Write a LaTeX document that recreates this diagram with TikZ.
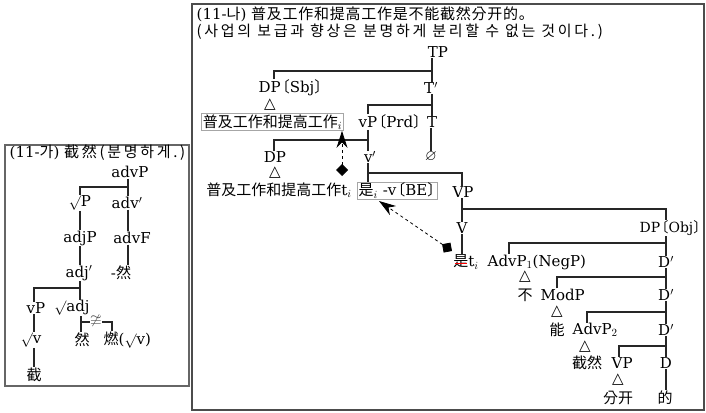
\documentclass[tikz,border=0pt]{standalone}
\usepackage{fontspec}
\usepackage{amssymb}
\usetikzlibrary{arrows.meta}
\setmainfont{DejaVu Serif}
\newfontfamily\cjk{Noto Sans CJK KR}
\newfontfamily\cjkw[LetterSpace=18]{Noto Sans CJK KR}
\newfontfamily\cjkm[LetterSpace=5]{Noto Sans CJK KR}
\newfontfamily\djv{DejaVu Sans}
\newcommand\K[1]{{\cjk\fontsize{15}{18}\selectfont #1}}
\newcommand\KW[1]{{\cjkw\fontsize{15}{18}\selectfont #1}}
\newcommand\KM[1]{{\cjkm\fontsize{15}{18}\selectfont #1}}
\newcommand\lb{\kern-6pt\K{〔}}
\newcommand\rb{\K{〕}\kern-6pt}
\tikzset{
  lab/.style={inner sep=0.5pt, font=\fontsize{15}{18}\selectfont},
  tri/.style={inner sep=0pt, font=\djv\fontsize{15}{15}\selectfont},
  boxed/.style={draw=black!35, line width=0.8pt, inner sep=1pt},
  tree/.style={line width=1.4pt, black!85},
  mv/.style={dashed, line width=0.8pt, {Diamond[length=12pt,width=12pt]}-{Stealth[length=17pt,width=11pt]}}
}
\begin{document}
\begin{tikzpicture}[x=1pt,y=-1pt]
\useasboundingbox (0,0) rectangle (706,412);
\fill[white] (0,0) rectangle (706,412);
% frames
\draw[line width=2pt, black!60] (5,145) rectangle (189,386);
\draw[line width=2pt, black!70] (192,4) rectangle (704,410);

% ---------- left panel ----------
\node[lab, anchor=west] (ta) at (9,153) {(11-\K{가}) \KW{截然(분명하게.)}};
\node[lab] (advP) at (130,172) {advP};
\node[lab] (rP) at (80,203) {$\surd$P};
\node[lab] (advp) at (127,203) {adv$'$};
\node[lab] (adjP) at (80,238) {adjP};
\node[lab] (advF) at (132,238) {advF};
\node[lab] (adjp) at (79,273) {adj$'$};
\node[lab] (ran1) at (121,273) {-\K{然}};
\node[lab] (vP) at (36,308) {vP};
\node[lab] (radj) at (72,308) {$\surd$adj};
\node[lab] (rv) at (31,340) {$\surd$v};
\node[lab] (ran2) at (82,340) {\K{然}};
\node[lab, anchor=west] (ran3) at (103,340) {\K{燃}($\surd$v)};
\node[lab] (jie) at (34,375) {\K{截}};
\node[inner sep=0pt, text=black!70, scale=1.5] (ncong) at (96,321) {$\ncong$};

\draw[tree] (advP.south -| 128,0) -- (advp.north -| 128,0);
\draw[tree] (rP.north -| 80,0) |- (128,187);
\draw[tree] (rP.south -| 80,0) -- (adjP.north -| 80,0);
\draw[tree] (advp.south -| 128,0) -- (advF.north -| 128,0);
\draw[tree] (adjP.south -| 80,0) -- (adjp.north -| 80,0);
\draw[tree] (advF.south -| 128,0) -- (ran1.north -| 128,0);
\draw[tree] (adjp.south -| 80,0) -- (radj.north -| 80,0);
\draw[tree] (vP.north -| 34,0) |- (80,288);
\draw[tree] (vP.south -| 34,0) -- (rv.north -| 34,0);
\draw[tree] (rv.south -| 34,0) -- (jie.north -| 34,0);
\draw[tree] (radj.south -| 81,0) -- (ran2.north -| 81,0);
\draw[tree] (81,322) -- (ncong.west |- 0,322);
\draw[tree] (ncong.east |- 0,322) -| (ran3.north -| 112,0);

% ---------- right panel ----------
\node[lab, anchor=west] (t1) at (196,14) {(11-\K{나}) \KM{普及工作和提高工作是不能截然分开的。}};
\node[lab, anchor=west] (t2) at (196,32) {\KW{(사업의 보급과 향상은 분명하게 분리할 수 없는 것이다.)}};
\node[lab] (TP) at (438,52) {TP};
\node[lab, anchor=west] (DPsbj) at (258,88) {DP\lb Sbj\rb};
\node[lab] (Tp) at (431,88) {T$'$};
\node[tri] (tri1) at (270,105) {△};
\node[lab, boxed, minimum width=139pt, minimum height=17pt] (box1) at (272.5,122) {\K{普及工作和提高工作}$_i$};
\node[lab, anchor=west] (vPprd) at (358,122) {vP\lb Prd\rb};
\node[lab] (T) at (432,122) {T};
\node[lab] (DP) at (275,157) {DP};
\node[lab] (vp) at (370,157) {v$'$};
\node[lab] (empty) at (431,157) {$\varnothing$};
\node[tri] (tri2) at (275,173) {△};
\node[lab] (txt) at (279,190) {\K{普及工作和提高工作}t$_i$};
\node[lab, boxed, minimum width=79pt, minimum height=15pt] (box2) at (397.5,190.5) {\K{是}$_i$ -v\lb BE\rb};
\node[lab] (VP) at (463,192) {VP};
\node[lab] (V) at (462,228) {V};
\node[lab, anchor=west, scale=0.93] (DPobj) at (639,228) {DP\lb Obj\rb};
\node[lab] (shi) at (466,262) {\K{是}t$_i$};
\node[lab, anchor=west] (AdvP1) at (487,262) {AdvP$_1$(NegP)};
\node[lab] (Dp1) at (666,262) {D$'$};
\node[tri] (tri3) at (525,277) {△};
\node[lab] (bu) at (525,295) {\K{不}};
\node[lab, anchor=west] (ModP) at (540,295) {ModP};
\node[lab] (Dp2) at (666,295) {D$'$};
\node[tri] (tri4) at (557,312) {△};
\node[lab] (neng) at (557,330) {\K{能}};
\node[lab, anchor=west] (AdvP2) at (572,330) {AdvP$_2$};
\node[lab] (Dp3) at (666,330) {D$'$};
\node[tri] (tri5) at (585,347) {△};
\node[lab] (jieran) at (587,363) {\K{截然}};
\node[lab, anchor=west] (VP2) at (611,363) {VP};
\node[lab] (D) at (666,363) {D};
\node[tri] (tri6) at (618,380) {△};
\node[lab] (fenkai) at (618,398) {\K{分开}};
\node[lab] (de) at (665,398) {\K{的}};

\draw[tree] (TP.south -| 432,0) -- (Tp.north -| 432,0);
\draw[tree] (DPsbj.north -| 274,0) |- (432,71);
\draw[tree] (Tp.south -| 432,0) -- (T.north -| 432,0);
\draw[tree] (vPprd.north -| 368,0) |- (432,105);
\draw[tree] (vPprd.south -| 368,0) -- (vp.north -| 368,0);
\draw[tree] (DP.north -| 274,0) |- (368,140);
\draw[tree] (T.south -| 431,0) -- (empty.north -| 431,0);
\draw[tree] (vp.south -| 368,0) -- (box2.north -| 368,0);
\draw[tree] (368,173) -| (VP.north -| 462,0);
\draw[tree] (VP.south -| 462,0) -- (V.north -| 462,0);
\draw[tree] (462,209) -| (DPobj.north -| 666,0);
\draw[tree] (V.south -| 462,0) -- (shi.north -| 462,0);
\draw[tree] (DPobj.south -| 666,0) -- (Dp1.north -| 666,0);
\draw[tree] (AdvP1.north -| 509,0) |- (666,243);
\draw[tree] (Dp1.south -| 666,0) -- (Dp2.north -| 666,0);
\draw[tree] (ModP.north -| 557,0) |- (666,277);
\draw[tree] (Dp2.south -| 666,0) -- (Dp3.north -| 666,0);
\draw[tree] (AdvP2.north -| 587,0) |- (666,312);
\draw[tree] (Dp3.south -| 666,0) -- (D.north -| 666,0);
\draw[tree] (VP2.north -| 619,0) |- (666,346);
\draw[tree] (D.south -| 666,0) -- (de.north -| 666,0);

% movement arrows
\coordinate (m1) at (342,176);
\coordinate (m2) at (452,251);
\draw[mv] (m1) -- (box1.south -| 342,0);
\draw[mv] (m2) -- (379,201);
% strike-through
\draw[red, line width=0.9pt] (455,263) -- (467,263);
\end{tikzpicture}
\end{document}
